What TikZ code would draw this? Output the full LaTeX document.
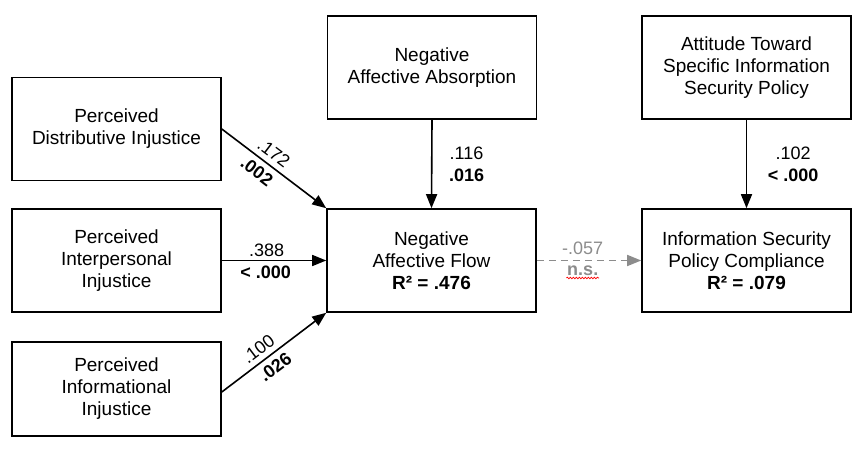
\documentclass[tikz,border=0pt]{standalone}
\usepackage{fontspec}
\setmainfont{Liberation Sans}
\usetikzlibrary{arrows.meta,decorations.pathmorphing}
\begin{document}
\begin{tikzpicture}[x=1pt,y=-1pt,
  box/.style={draw, line width=1.6pt, align=center, inner sep=0pt,
    font=\fontsize{19}{22}\selectfont, minimum width=209pt, minimum height=103pt},
  arr/.style={line width=1.6pt, -{Triangle[length=14pt,width=11pt]}},
  lab/.style={font=\fontsize{18}{22}\selectfont, inner sep=3pt},
  blab/.style={font=\fontsize{18}{22}\selectfont\bfseries, inner sep=4.5pt},
  dashgray/.style={line width=1.6pt, draw=gray!90, dash pattern=on 7pt off 5pt,
    -{Triangle[length=14pt,width=11pt]}},
]
\useasboundingbox (0,0) rectangle (864,454);

\node[box] (PDI) at (116.5,129) {Perceived\\Distributive Injustice};
\node[box] (PII) at (116.5,260.5) {Perceived\\Interpersonal\\Injustice};
\node[box, minimum height=94pt] (PIF) at (116.5,389) {Perceived\\Informational\\Injustice};
\node[box] (NAA) at (432,67.5) {Negative\\Affective Absorption};
\node[box] (NAF) at (431.5,260.5) {Negative\\Affective Flow\\\textbf{R² = .476}};
\node[box] (ATT) at (746.5,67.5) {Attitude Toward\\Specific Information\\Security Policy};
\node[box] (ISPC) at (746.5,260.5) {Information Security\\Policy Compliance\\\textbf{R² = .079}};

\draw[arr] (PDI.east) -- (NAF.north west)
  node[lab, pos=0.43, sloped, above, inner sep=5pt] {.172}
  node[blab, pos=0.41, sloped, below, inner sep=5.5pt] {.002};
\draw[arr] (PII.east) -- (NAF.west)
  node[lab, pos=0.43, above] {.388}
  node[blab, pos=0.42, below] {< .000};
\draw[arr] ([yshift=-3pt]PIF.east) -- (NAF.south west)
  node[lab, pos=0.42, sloped, above, inner sep=5pt] {.100}
  node[blab, pos=0.44, sloped, below, inner sep=5.5pt] {.026};
\draw[arr] (NAA.south) -- (NAF.north)
  node[lab, pos=0.5, right=15pt, align=center, inner sep=1.5pt] {.116\\\textbf{.016}};
\draw[arr] (ATT.south) -- (ISPC.north)
  node[lab, pos=0.5, right=19pt, align=center, inner sep=1.5pt] {.102\\\textbf{< .000}};
\draw[dashgray] (NAF.east) -- (ISPC.west)
  node[lab, text=gray!90, pos=0.44, above, inner sep=5pt] {-.057}
  node[blab, text=gray!90, pos=0.44, below, inner sep=5pt] (ns) {n.s.};
\draw[red, line width=0.7pt, decorate,
  decoration={snake, amplitude=0.8pt, segment length=3pt}]
  ([xshift=5pt,yshift=4pt]ns.south west) -- ([xshift=-5pt,yshift=4pt]ns.south east);
\end{tikzpicture}
\end{document}
